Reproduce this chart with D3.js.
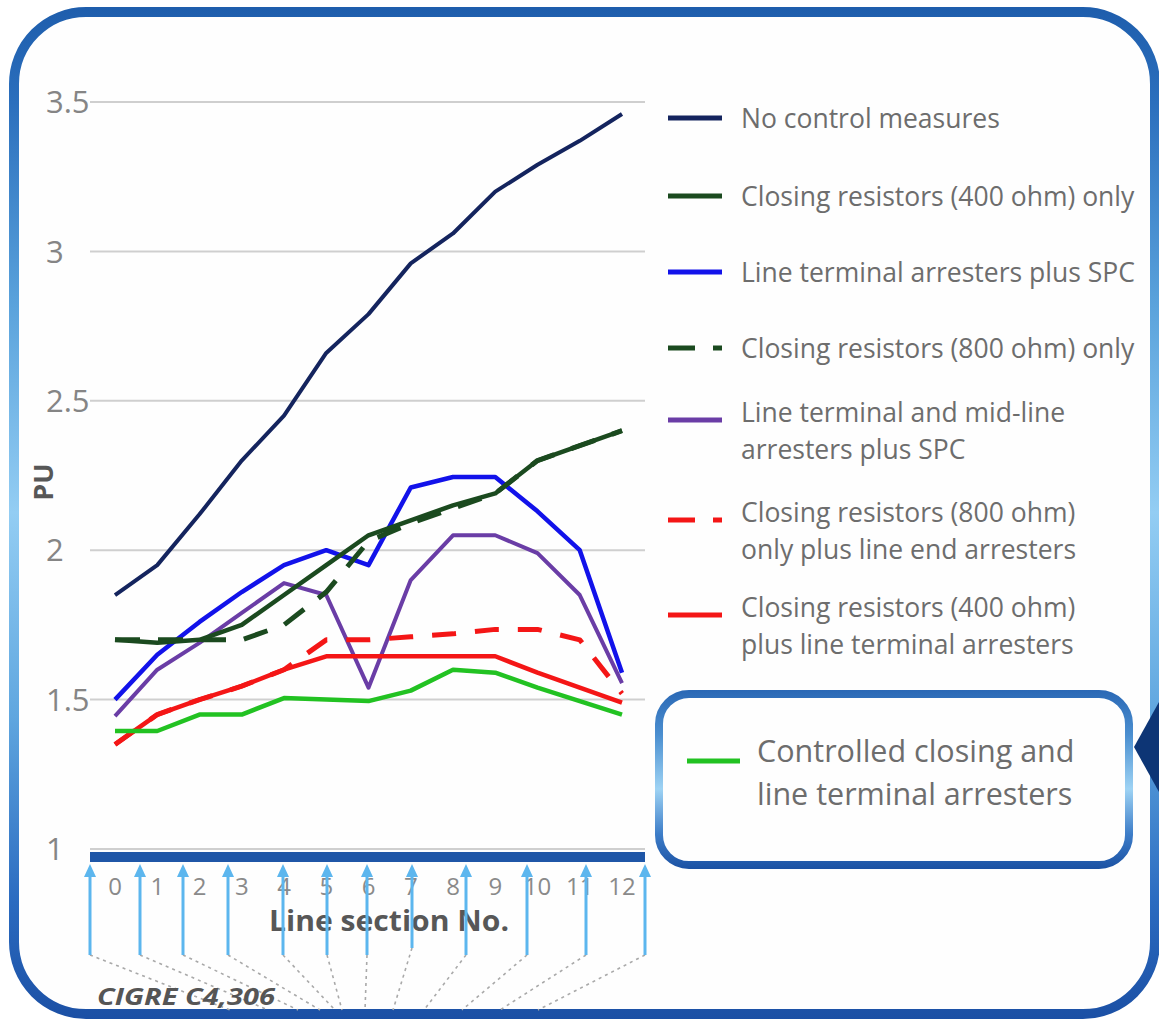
<!DOCTYPE html>
<html><head><meta charset="utf-8">
<script src="https://cdn.jsdelivr.net/npm/d3@7"></script>
<style>
body{margin:0;background:#fff;}
svg{display:block;font-family:"Open Sans",sans-serif;}
</style></head>
<body><svg id="chart" width="1159" height="1025"></svg>
<script>
// ---------- data ----------
const sections = ["0","1","2","3","4","5","6","7","8","9","10","11","12"];
const yTicks = [1, 1.5, 2, 2.5, 3, 3.5];
const yTickLabels = ["1", "1.5", "2", "2.5", "3", "3.5"];

const noControl      = [1.85, 1.95, 2.12, 2.30, 2.45, 2.66, 2.79, 2.96, 3.06, 3.20, 3.29, 3.37, 3.46];
const cr400Only      = [1.70, 1.69, 1.70, 1.75, 1.85, 1.95, 2.05, 2.10, 2.15, 2.19, 2.30, 2.35, 2.40];
const ltaSPC         = [1.50, 1.65, 1.76, 1.86, 1.95, 2.00, 1.95, 2.21, 2.245, 2.245, 2.13, 2.00, 1.59];
const cr800Only      = [1.70, 1.70, 1.70, 1.70, 1.75, 1.86, 2.03, 2.09, 2.14, 2.19, 2.30, 2.35, 2.40];
const ltMidSPC       = [1.445, 1.60, 1.69, 1.79, 1.89, 1.85, 1.54, 1.90, 2.05, 2.05, 1.99, 1.85, 1.555];
const cr800EndArr    = [1.35, 1.45, 1.50, 1.545, 1.60, 1.70, 1.70, 1.71, 1.72, 1.735, 1.735, 1.70, 1.52];
const cr400TermArr   = [1.35, 1.45, 1.50, 1.545, 1.60, 1.645, 1.645, 1.645, 1.645, 1.645, 1.59, 1.54, 1.49];
const controlledClos = [1.395, 1.395, 1.45, 1.45, 1.505, 1.50, 1.495, 1.53, 1.60, 1.59, 1.54, 1.495, 1.45];

const legendLabels = [
  ["No control measures"],
  ["Closing resistors (400 ohm) only"],
  ["Line terminal arresters plus SPC"],
  ["Closing resistors (800 ohm) only"],
  ["Line terminal and mid-line", "arresters plus SPC"],
  ["Closing resistors (800 ohm)", "only plus line end arresters"],
  ["Closing resistors (400 ohm)", "plus line terminal arresters"]
];
const calloutLabel = ["Controlled closing and", "line terminal arresters"];
const xTitle = "Line section No.";
const yTitle = "PU";
const sourceNote = "CIGRE C4,306";

// ---------- setup ----------
const svg = d3.select("#chart");
const W = 1159, H = 1025;
const defs = svg.append("defs");

const frameGrad = defs.append("linearGradient").attr("id","frameGrad")
  .attr("gradientUnits","userSpaceOnUse").attr("x1",0).attr("y1",0).attr("x2",0).attr("y2",H);
[[0,"#1d5cab"],[0.1,"#2b6fbd"],[0.3,"#5ba3dc"],[0.5,"#93cdf3"],[0.7,"#5fa6df"],[0.88,"#2b6bc0"],[1,"#1a4ea3"]]
  .forEach(([o,c]) => frameGrad.append("stop").attr("offset",o).attr("stop-color",c));

const boxGrad = defs.append("linearGradient").attr("id","boxGrad")
  .attr("gradientUnits","userSpaceOnUse").attr("x1",0).attr("y1",690).attr("x2",0).attr("y2",870);
[[0,"#2a68b5"],[0.25,"#4b8fd0"],[0.55,"#9ed3f4"],[0.8,"#3d7dc8"],[1,"#1a50a2"]]
  .forEach(([o,c]) => boxGrad.append("stop").attr("offset",o).attr("stop-color",c));

// outer frame
svg.append("rect").attr("x",14).attr("y",12).attr("width",1141).attr("height",1002)
  .attr("rx",72).attr("ry",72).attr("fill","#fefefe")
  .attr("stroke","url(#frameGrad)").attr("stroke-width",10);

// scales
const x = d3.scalePoint().domain(sections).range([115, 622]);
const y = d3.scaleLinear().domain([1, 3.5]).range([849, 102]);

// gridlines
svg.append("g").selectAll("line").data(yTicks).join("line")
  .attr("x1",90).attr("x2",645)
  .attr("y1",d=>y(d)).attr("y2",d=>y(d))
  .attr("stroke","#cfcfcf").attr("stroke-width",2);

// y tick labels
svg.append("g").selectAll("text").data(yTicks).join("text")
  .attr("x",46).attr("y",d=>y(d)).attr("dy","0.36em")
  .attr("fill","#858585").attr("font-size",31)
  .text((d,i)=>yTickLabels[i]);

// x axis bar
svg.append("rect").attr("x",90).attr("y",852).attr("width",555).attr("height",10).attr("fill","#1f56a7");

// x tick labels
svg.append("g").selectAll("text").data(sections).join("text")
  .attr("x",d=>x(d)).attr("y",886).attr("dy","0.36em")
  .attr("text-anchor","middle").attr("fill","#8a8a8a").attr("font-size",24)
  .text(d=>d);

// axis titles
svg.append("text").attr("x",389).attr("y",921).attr("dy","0.36em")
  .attr("text-anchor","middle").attr("font-weight","bold").attr("font-size",28)
  .attr("fill","#575757").attr("textLength",240).attr("lengthAdjust","spacingAndGlyphs")
  .text(xTitle);
svg.append("text").attr("transform","translate(43,482) rotate(-90)").attr("dy","0.36em")
  .attr("text-anchor","middle").attr("font-weight","bold").attr("font-size",27)
  .attr("fill","#575757").text(yTitle);

// decorative arrows (layout)
const arrowX = [90, 140, 183, 228, 283, 327, 367, 412, 466, 527, 586, 645];
const arrowBottom = [955,955,955,955,955,955,955,948,955,955,955,955];
const dotEndX = [230, 268, 298, 320, 335, 342, 365, 393, 424, 462, 500, 538];
const ag = svg.append("g");
arrowX.forEach((ax,i)=>{
  ag.append("line").attr("x1",ax).attr("x2",dotEndX[i]).attr("y1",arrowBottom[i]).attr("y2",1010)
    .attr("stroke","#a9a9a9").attr("stroke-width",1.6).attr("stroke-dasharray","3,4");
});

// series
const series = [
  {v: ltaSPC, color:"#1212ea", dash:null, w:4.5},
  {v: ltMidSPC, color:"#6a3da6", dash:null, w:4},
  {v: cr400Only, color:"#1b4a1f", dash:null, w:4.5},
  {v: cr800Only, color:"#1b4a1f", dash:"25,18", w:5},
  {v: cr400TermArr, color:"#f41616", dash:null, w:4.5},
  {v: cr800EndArr, color:"#f41616", dash:"24,19", w:5},
  {v: controlledClos, color:"#22c222", dash:null, w:4.5},
  {v: noControl, color:"#14245e", dash:null, w:4}
];
const line = d3.line().x((d,i)=>x(sections[i])).y(d=>y(d));
svg.append("g").selectAll("path").data(series).join("path")
  .attr("d",d=>line(d.v)).attr("fill","none")
  .attr("stroke",d=>d.color).attr("stroke-width",d=>d.w)
  .attr("stroke-dasharray",d=>d.dash).attr("stroke-linejoin","round");

// arrows on top
arrowX.forEach((ax,i)=>{
  ag.append("line").attr("x1",ax).attr("x2",ax).attr("y1",arrowBottom[i]).attr("y2",874)
    .attr("stroke","#5cb6ee").attr("stroke-width",3);
  ag.append("path").attr("d",`M${ax},864 L${ax-6},877 L${ax+6},877 Z`).attr("fill","#5cb6ee");
});
ag.raise();

// source note
svg.append("text").attr("x",97).attr("y",1005)
  .attr("font-weight","bold").attr("font-style","italic").attr("font-size",24)
  .attr("fill","#555").attr("textLength",178).attr("lengthAdjust","spacingAndGlyphs")
  .text(sourceNote);

// legend
const legendSeries = [
  {color:"#14245e", dash:null},
  {color:"#1b4a1f", dash:null},
  {color:"#1212ea", dash:null},
  {color:"#1b4a1f", dash:"27,18"},
  {color:"#6a3da6", dash:null},
  {color:"#f41616", dash:"27,18"},
  {color:"#f41616", dash:null}
];
const legendY = [118, 196, 272, 348, 412, 512, 607];
const lg = svg.append("g");
legendLabels.forEach((lines,i)=>{
  const cy = legendY[i];
  const sy = lines.length > 1 ? cy + 8 : cy;
  lg.append("line").attr("x1",668).attr("x2",722).attr("y1",sy).attr("y2",sy)
    .attr("stroke",legendSeries[i].color).attr("stroke-width",5)
    .attr("stroke-dasharray",legendSeries[i].dash);
  lines.forEach((t,j)=>{
    lg.append("text").attr("x",741).attr("y",cy + j*37).attr("dy","0.36em")
      .attr("fill","#6d6d6d").attr("font-size",26.5).text(t);
  });
});

// callout box
svg.append("path").attr("d","M1159,702 L1134,747 L1159,792 Z").attr("fill","#0d3575");
svg.append("rect").attr("x",659).attr("y",694).attr("width",470).attr("height",171)
  .attr("rx",30).attr("ry",30).attr("fill","#fefefe")
  .attr("stroke","url(#boxGrad)").attr("stroke-width",8);
svg.append("line").attr("x1",687).attr("x2",740).attr("y1",761).attr("y2",761)
  .attr("stroke","#22c222").attr("stroke-width",5);
calloutLabel.forEach((t,j)=>{
  svg.append("text").attr("x",757).attr("y",751 + j*43).attr("dy","0.36em")
    .attr("fill","#6d6d6d").attr("font-size",30.5).text(t);
});
</script>
</body></html>
